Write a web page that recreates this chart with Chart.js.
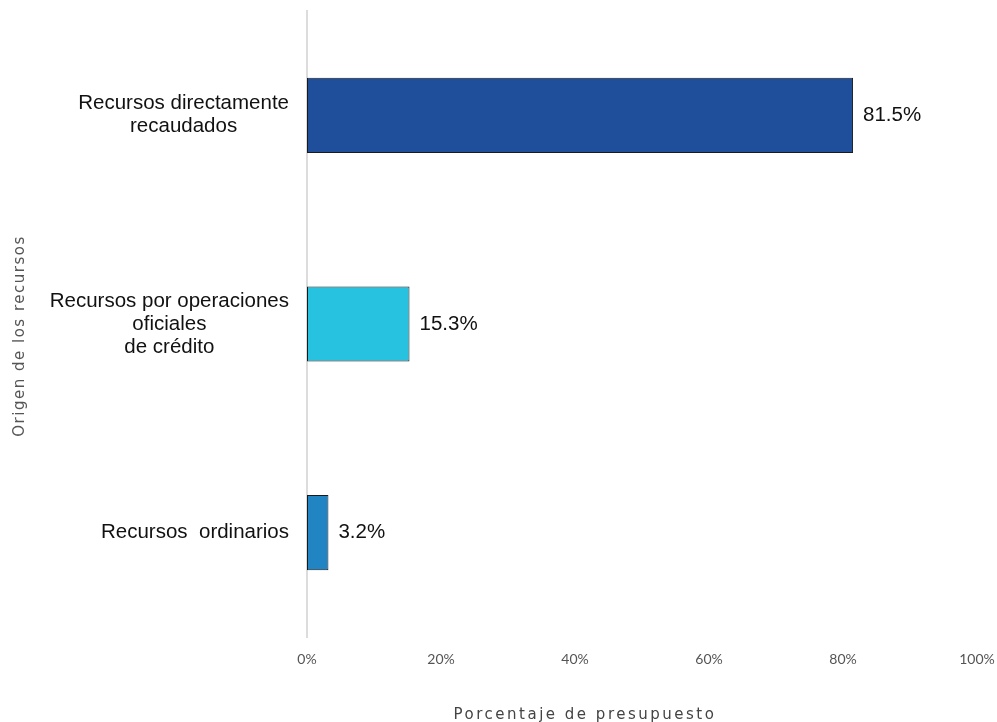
<!DOCTYPE html>
<html lang="es">
<head>
<meta charset="utf-8">
<title>Origen de los recursos</title>
<script src="https://cdn.jsdelivr.net/npm/chart.js@4.4.1/dist/chart.umd.min.js"></script>
<style>
  html, body { margin: 0; padding: 0; background: #fff; }
  #wrap { width: 997px; height: 722px; position: relative; }
</style>
</head>
<body>
<div id="wrap"><canvas id="origenChart"></canvas></div>
<script>
// --- Datos del gráfico ---
const CATEGORIAS = [
    ['Recursos directamente', 'recaudados'],
    ['Recursos por operaciones', 'oficiales', 'de crédito'],
    ['Recursos  ordinarios']
];
const PORCENTAJES = [81.5, 15.3, 3.2];
const COLORES = ['#1F4E9A', '#26C2E0', '#2285C3'];
const TICKS_X = [0, 20, 40, 60, 80, 100];
const TITULO_X = 'Porcentaje de presupuesto';
const TITULO_Y = 'Origen de los recursos';

const LABEL_FONT = '20.5px "Liberation Sans", Arial, sans-serif';
const TITLE_FONT = '15px "DejaVu Sans", sans-serif';
const AXIS_FONT_FAMILY = 'Lato, "Open Sans", sans-serif';
const GRIS = '#555555';

// etiquetas de categoria: bloque alineado a la derecha, lineas centradas
const categoryLabels = {
    id: 'categoryLabels',
    afterDraw(chart) {
        const ctx = chart.ctx;
        const yScale = chart.scales.y;
        const right = chart.chartArea.left - 18;
        ctx.save();
        ctx.font = LABEL_FONT;
        ctx.fillStyle = '#111';
        ctx.textAlign = 'center';
        ctx.textBaseline = 'middle';
        CATEGORIAS.forEach((lines, i) => {
            const w = Math.max(...lines.map(l => ctx.measureText(l).width));
            const cx = right - w / 2;
            const cy = yScale.getPixelForValue(i);
            const lh = 23;
            const top = cy - (lines.length - 1) * lh / 2;
            lines.forEach((l, k) => ctx.fillText(l, cx, top + k * lh));
        });
        ctx.restore();
    }
};

// titulos de ejes (fuente ancha con espaciado)
const axisTitles = {
    id: 'axisTitles',
    afterDraw(chart) {
        const ctx = chart.ctx;
        const area = chart.chartArea;
        ctx.save();
        ctx.font = TITLE_FONT;
        ctx.textAlign = 'center';
        ctx.textBaseline = 'middle';
        ctx.letterSpacing = '2.5px';
        ctx.fillStyle = '#444';
        ctx.fillText(TITULO_X, 585, chart.height - 7);
        ctx.letterSpacing = '1.5px';
        ctx.translate(20, (area.top + area.bottom) / 2 + 12);
        ctx.rotate(-Math.PI / 2);
        ctx.fillStyle = '#555';
        ctx.fillText(TITULO_Y, 0, 0);
        ctx.restore();
    }
};

// etiquetas de valor al final de cada barra
const valueLabels = {
    id: 'valueLabels',
    afterDatasetsDraw(chart) {
        const ctx = chart.ctx;
        const meta = chart.getDatasetMeta(0);
        ctx.save();
        ctx.font = LABEL_FONT;
        ctx.fillStyle = '#111';
        ctx.textAlign = 'left';
        ctx.textBaseline = 'middle';
        meta.data.forEach((bar, i) => {
            ctx.fillText(PORCENTAJES[i].toFixed(1) + '%', bar.x + 10, bar.y);
        });
        ctx.restore();
    }
};

const ctx = document.getElementById('origenChart').getContext('2d');
new Chart(ctx, {
    type: 'bar',
    data: {
        labels: CATEGORIAS.map(c => c.join(' ')),
        datasets: [{
            data: PORCENTAJES,
            backgroundColor: COLORES,
            borderColor: '#1a1a1a',
            borderWidth: 1,
            borderSkipped: false,
            barPercentage: 0.36,
            categoryPercentage: 1
        }]
    },
    options: {
        indexAxis: 'y',
        responsive: true,
        maintainAspectRatio: false,
        animation: false,
        layout: { padding: { top: 11, right: 0, left: 0, bottom: 0 } },
        plugins: {
            legend: { display: false },
            tooltip: { enabled: false }
        },
        scales: {
            x: {
                min: 0,
                max: 100,
                afterBuildTicks: scale => { scale.ticks = TICKS_X.map(v => ({ value: v })); },
                grid: { display: false },
                border: { display: false },
                ticks: {
                    color: GRIS,
                    font: { family: AXIS_FONT_FAMILY, size: 14 },
                    padding: 6,
                    maxRotation: 0,
                    callback: v => v + '%'
                },
                title: { display: false },
                afterFit: scale => {
                    scale.height = 85;
                    scale.paddingRight = 20;
                }
            },
            y: {
                grid: { display: false },
                border: { display: true, color: '#dcdcdc', width: 2 },
                ticks: { display: false },
                title: { display: false },
                afterFit: scale => { scale.width = 307; }
            }
        }
    },
    plugins: [categoryLabels, valueLabels, axisTitles]
});
</script>
</body>
</html>
